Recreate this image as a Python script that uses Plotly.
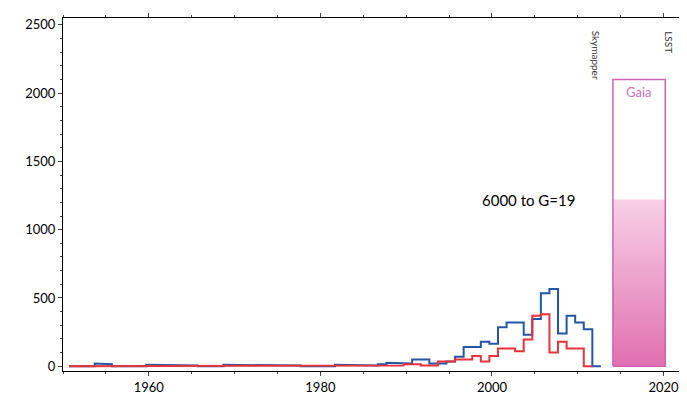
import plotly.graph_objs as go

years = list(range(1950, 2012))
blue = [0, 0, 0, 20, 15, 0, 0, 0, 0, 10, 10, 10, 10, 10, 5,
        0, 0, 0, 10, 10, 5, 5, 5, 5, 5, 10, 5, 0, 0, 0,
        0, 10, 10, 10, 5, 5, 15, 25, 25, 20, 50, 50, 20, 20, 35,
        70, 140, 140, 180, 165, 285, 320, 320, 230, 345, 535, 565, 240, 370, 320,
        270, 0]
red = [0] * 35 + [5, 5, 5, 5, 15, 15, 5, 5, 35,
                  35, 50, 50, 75, 35, 75, 130, 130, 110, 195, 370, 380, 100, 180, 130,
                  130, 0]
red = red[:len(years)]

gaia_x = [2014.1, 2020.2]
gaia_total = 2100
gaia_bright = 1220


def steps(vals):
    xs, ys = [], []
    for y, v in zip(years, vals):
        xs += [y + 0.7, y + 1.7]
        ys += [v, v]
    return xs, ys


fig = go.Figure()
bx, by = steps(blue)
rx, ry = steps(red)
fig.add_trace(go.Scatter(x=bx, y=by, mode='lines', line=dict(color='#2356a8', width=2)))
fig.add_trace(go.Scatter(x=rx, y=ry, mode='lines', line=dict(color='#e8333a', width=2)))

x0, x1 = gaia_x
fig.add_trace(go.Scatter(x=[x0, x1, x1, x0, x0], y=[0, 0, gaia_bright, gaia_bright, 0],
                         mode='lines', line=dict(width=0), fill='toself',
                         fillgradient=dict(type='vertical',
                                           colorscale=[[0, '#e070b0'], [1, '#f8d0e6']])))
fig.add_trace(go.Scatter(x=[x0, x1, x1, x0, x0], y=[0, 0, gaia_total, gaia_total, 0],
                         mode='lines', line=dict(color='#d060b8', width=1.5)))

fig.add_annotation(x=(x0 + x1) / 2, y=gaia_total - 20, text='Gaia', showarrow=False,
                   yanchor='top', font=dict(color='#d070c0', size=13))
fig.add_annotation(x=2004.2, y=1215, text='6000 to G=19', showarrow=False,
                   font=dict(color='black', size=15))
fig.add_annotation(x=2012.1, y=2470, text='Skymapper', showarrow=False, textangle=90,
                   yanchor='top', font=dict(color='#333', size=10))
fig.add_annotation(x=2020.6, y=2470, text='LSST', showarrow=False, textangle=90,
                   yanchor='top', font=dict(color='#333', size=10))

axis = dict(showline=True, linecolor='black', mirror='ticks', ticks='outside',
            ticklen=4, showgrid=False, zeroline=False,
            tickfont=dict(size=13, color='black'))
fig.update_xaxes(range=[1950, 2022.5], tickvals=[1960, 1980, 2000, 2020],
                 minor=dict(dtick=5, tick0=1950, ticks='outside', ticklen=2), **axis)
fig.update_yaxes(range=[-35, 2550], tickvals=[0, 500, 1000, 1500, 2000, 2500],
                 minor=dict(dtick=100, ticks='outside', ticklen=2), **axis)
fig.update_layout(width=687, height=401, showlegend=False,
                  plot_bgcolor='white', paper_bgcolor='white',
                  font=dict(family='Lato'),
                  margin=dict(l=55, r=5, t=6, b=38))
fig.write_html("out.html")
